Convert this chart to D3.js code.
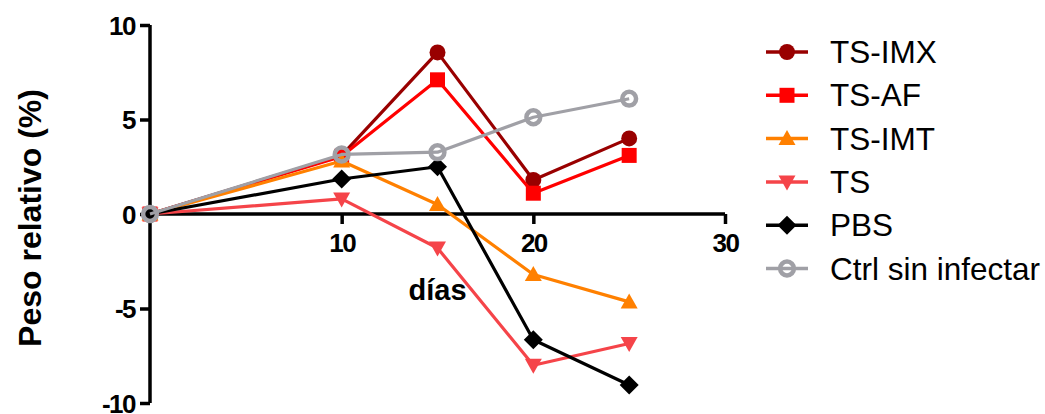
<!DOCTYPE html>
<html>
<head>
<meta charset="utf-8">
<script src="https://cdn.jsdelivr.net/npm/d3@7"></script>
<style>
  html, body { margin: 0; padding: 0; background: #fff; }
  svg { display: block; }
</style>
</head>
<body>
<svg id="chart" width="1045" height="414"></svg>
<script>
// Days post-infection and relative body weight change (%) per group
const days = [0, 10, 15, 20, 25];
const tsImx = [0, 3.1, 8.55, 1.8, 4.0];
const tsAf = [0, 3.05, 7.1, 1.1, 3.1];
const tsImt = [0, 2.8, 0.5, -3.2, -4.65];
const ts = [0, 0.8, -1.8, -8.0, -6.85];
const pbs = [0, 1.85, 2.5, -6.65, -9.05];
const ctrl = [0, 3.15, 3.27, 5.12, 6.1];

const seriesNames = ["TS-IMX", "TS-AF", "TS-IMT", "TS", "PBS", "Ctrl sin infectar"];
const seriesValues = [tsImx, tsAf, tsImt, ts, pbs, ctrl];
const seriesColors = ["#990000", "#ff0000", "#ff8000", "#f54449", "#000000", "#a0a0a6"];
const seriesShapes = ["circle", "square", "triangleUp", "triangleDown", "diamond", "ring"];

const yTicks = [10, 5, 0, -5, -10];
const xTicks = [10, 20, 30];

const svg = d3.select("#chart");
const x = d3.scaleLinear().domain([0, 30]).range([150, 725]);
const y = d3.scaleLinear().domain([-10, 10]).range([403, 25]);

// Marker path builders (centered on 0,0)
function markerPath(shape) {
  switch (shape) {
    case "circle": return d3.symbol(d3.symbolCircle, 200)();
    case "square": return "M-7.5,-7.5H7.5V7.5H-7.5Z";
    case "triangleUp": return "M0,-8.5L8.5,6.5H-8.5Z";
    case "triangleDown": return "M0,8.5L8.5,-6.5H-8.5Z";
    case "diamond": return "M0,-9.5L9.5,0L0,9.5L-9.5,0Z";
    case "ring": return d3.symbol(d3.symbolCircle, 150)();
  }
}
function styleMarker(sel, shape, color) {
  if (shape === "ring") {
    sel.attr("fill", "none").attr("stroke", color).attr("stroke-width", 4.5);
  } else {
    sel.attr("fill", color).attr("stroke", "none");
  }
}

// Axes
const axisFont = "'Liberation Sans', Arial, Helvetica, sans-serif";

const yAxis = svg.append("g")
  .attr("transform", `translate(${x(0)},0)`)
  .call(d3.axisLeft(y).tickValues(yTicks).tickSize(10).tickPadding(5)
    .tickFormat(d => d < 0 ? "-" + Math.abs(d) : String(d)));
yAxis.select(".domain").attr("stroke", "#000").attr("stroke-width", 3.5)
  .attr("d", `M0,${y(10)}V${y(-10)}`);
yAxis.selectAll(".tick line").attr("stroke", "#000").attr("stroke-width", 3.5);
yAxis.selectAll(".tick text")
  .attr("fill", "#000").attr("font-family", axisFont).attr("font-weight", "bold")
  .attr("font-size", 26).attr("letter-spacing", -1.5).attr("dy", "0.36em");

const xAxis = svg.append("g")
  .attr("transform", `translate(0,${y(0)})`)
  .call(d3.axisBottom(x).tickValues(xTicks).tickSize(10).tickPadding(10));
xAxis.select(".domain").attr("stroke", "#000").attr("stroke-width", 3.5)
  .attr("d", `M${x(0)},0H${x(30)}`);
xAxis.selectAll(".tick line").attr("stroke", "#000").attr("stroke-width", 3.5);
xAxis.selectAll(".tick text")
  .attr("fill", "#000").attr("font-family", axisFont).attr("font-weight", "bold")
  .attr("font-size", 26).attr("letter-spacing", -1.5);

// Axis titles
svg.append("text")
  .attr("x", (x(0) + x(30)) / 2).attr("y", 300)
  .attr("text-anchor", "middle")
  .attr("font-family", axisFont).attr("font-weight", "bold").attr("font-size", 29)
  .text("días");

svg.append("text")
  .attr("transform", `translate(41,${(y(10) + y(-10)) / 2 + 4}) rotate(-90)`)
  .attr("text-anchor", "middle")
  .attr("font-family", axisFont).attr("font-weight", "bold").attr("font-size", 32)
  .text("Peso relativo (%)");

// Lines and markers
const line = d3.line().x((d, i) => x(days[i])).y(d => y(d));
const plot = svg.append("g");
seriesValues.forEach((vals, s) => {
  const g = plot.append("g");
  g.append("path")
    .attr("d", line(vals))
    .attr("fill", "none").attr("stroke", seriesColors[s]).attr("stroke-width", 3.2)
    .attr("stroke-linejoin", "round");
  g.selectAll("path.mk").data(vals).join("path")
    .attr("class", "mk")
    .attr("transform", (d, i) => `translate(${x(days[i])},${y(d)})`)
    .attr("d", markerPath(seriesShapes[s]))
    .call(sel => styleMarker(sel, seriesShapes[s], seriesColors[s]));
});

// Legend
const legend = svg.append("g");
seriesNames.forEach((name, s) => {
  const cy = 52 + s * 43.3;
  const row = legend.append("g").attr("transform", `translate(0,${cy})`);
  row.append("line").attr("x1", 766).attr("x2", 808).attr("y1", 0).attr("y2", 0)
    .attr("stroke", seriesColors[s]).attr("stroke-width", 3.5);
  row.append("path").attr("transform", "translate(787,0)")
    .attr("d", markerPath(seriesShapes[s]))
    .call(sel => styleMarker(sel, seriesShapes[s], seriesColors[s]));
  row.append("text").attr("x", 830).attr("y", 11)
    .attr("font-family", axisFont).attr("font-size", 31.5).attr("fill", "#000")
    .text(name);
});
</script>
</body>
</html>
